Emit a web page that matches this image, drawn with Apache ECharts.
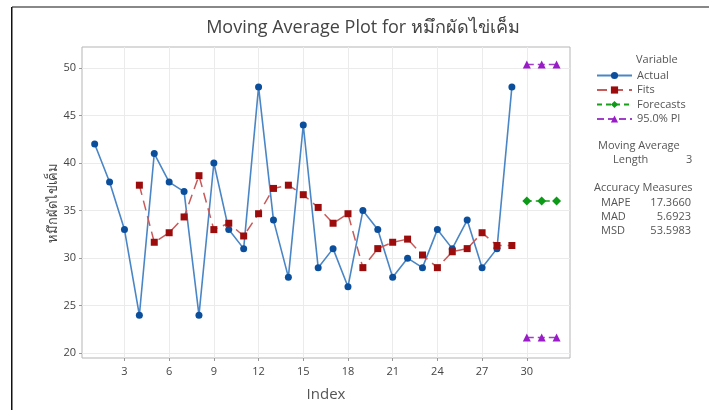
<!DOCTYPE html>
<html>
<head>
<meta charset="utf-8">
<script src="https://cdn.jsdelivr.net/npm/echarts@6/dist/echarts.min.js"></script>
<style>
html,body{margin:0;padding:0;background:#fff;}
#c{width:709px;height:410px;}
</style>
</head>
<body>
<div id="c"></div>
<script>
var indexVals = [1,2,3,4,5,6,7,8,9,10,11,12,13,14,15,16,17,18,19,20,21,22,23,24,25,26,27,28,29];
var actualVals = [42,38,33,24,41,38,37,24,40,33,31,48,34,28,44,29,31,27,35,33,28,30,29,33,31,34,29,31,48];
var fitIndex = [4,5,6,7,8,9,10,11,12,13,14,15,16,17,18,19,20,21,22,23,24,25,26,27,28,29];
var fitVals = [37.67,31.67,32.67,34.33,38.67,33.00,33.67,32.33,34.67,37.33,37.67,36.67,35.33,33.67,34.67,29.00,31.00,31.67,32.00,30.33,29.00,30.67,31.00,32.67,31.33,31.33];
var fcIndex = [30,31,32];
var fcVals = [36,36,36];
var piUpper = [50.35,50.35,50.35];
var piLower = [21.65,21.65,21.65];
var xTicks = [3,6,9,12,15,18,21,24,27,30];
var yTicks = [20,25,30,35,40,45,50];
var statLabels = ['MAPE','MAD','MSD'];
var statValues = ['17.3660','5.6923','53.5983'];

function pairs(xs, ys){ return xs.map(function(x,i){ return [x, ys[i]]; }); }

var FONT = '"Open Sans","Noto Sans",sans-serif';
var chart = echarts.init(document.getElementById('c'), null, {renderer:'canvas'});

var graphics = [
  {type:'rect', shape:{x:12,y:6,width:697,height:2}, style:{fill:'#888'}, silent:true},
  {type:'rect', shape:{x:11,y:7,width:1.5,height:403}, style:{fill:'#111'}, silent:true},
  {type:'text', left:636, top:54, style:{text:'Variable', font:'11px '+FONT, fill:'#555'}},
  {type:'text', left:598, top:140, style:{text:'Moving Average', font:'11px '+FONT, fill:'#555'}},
  {type:'text', left:613, top:154, style:{text:'Length', font:'11px '+FONT, fill:'#555'}},
  {type:'text', left:686, top:154, style:{text:'3', font:'11px '+FONT, fill:'#555'}},
  {type:'text', left:594, top:182, style:{text:'Accuracy Measures', font:'11px '+FONT, fill:'#555'}}
];
statLabels.forEach(function(l,i){
  graphics.push({type:'text', left:601, top:197+i*14, style:{text:l, font:'11px '+FONT, fill:'#555'}});
  graphics.push({type:'text', right:18, top:197+i*14, style:{text:statValues[i], font:'11px '+FONT, fill:'#555', align:'right'}});
});

var option = {
  animation:false,
  backgroundColor:'#fff',
  title:{
    text:'Moving Average Plot for หมึกผัดไข่เค็ม',
    left:358, top:14, textAlign:'center',
    textStyle:{fontFamily:FONT, fontSize:18, fontWeight:'normal', color:'#444'}
  },
  grid:{left:82, right:139, top:47, bottom:52, show:true, borderColor:'#b5b5b5', borderWidth:1},
  legend:{
    orient:'vertical', left:591, top:65, itemWidth:35, itemHeight:9, itemGap:3.5,
    textStyle:{fontFamily:FONT, fontSize:11, color:'#555'},
    data:['Actual','Fits','Forecasts','95.0% PI']
  },
  xAxis:{
    type:'value', min:0.15, max:32.9,
    name:'Index', nameLocation:'middle', nameGap:29,
    nameTextStyle:{fontFamily:FONT, fontSize:15, color:'#555'},
    axisLine:{show:false},
    axisTick:{show:true, length:3, customValues:xTicks, lineStyle:{color:'#999'}},
    axisLabel:{customValues:xTicks, margin:8, fontFamily:FONT, fontSize:11, color:'#444'},
    splitLine:{show:true, lineStyle:{color:'#ebebeb', width:1}}
  },
  yAxis:{
    type:'value', min:19.5, max:52.2,
    name:'หมึกผัดไข่เค็ม', nameLocation:'middle', nameGap:22, nameRotate:90,
    nameMoveOverlap:false,
    nameTextStyle:{fontFamily:FONT, fontSize:13, color:'#444'},
    axisLine:{show:false},
    axisTick:{show:true, length:3, customValues:yTicks, lineStyle:{color:'#999'}},
    axisLabel:{customValues:yTicks, margin:6, fontFamily:FONT, fontSize:11, color:'#444'},
    splitLine:{show:true, lineStyle:{color:'#ebebeb', width:1}}
  },
  series:[
    {name:'Actual', type:'line', data:pairs(indexVals, actualVals), symbol:'circle', symbolSize:7,
     lineStyle:{color:'#4a86c6', width:1.6}, itemStyle:{color:'#0b4f9c'}, z:3},
    {name:'Fits', type:'line', data:pairs(fitIndex, fitVals), symbol:'rect', symbolSize:7,
     lineStyle:{color:'#c85a5a', width:1.5, type:[10,6]}, itemStyle:{color:'#9c0c0c'}, z:4},
    {name:'Forecasts', type:'line', data:pairs(fcIndex, fcVals), symbol:'diamond', symbolSize:9,
     lineStyle:{color:'#1aa01a', width:1.5, type:[5,4]}, itemStyle:{color:'#0c9a18'}},
    {name:'95.0% PI', type:'line', data:pairs(fcIndex, piUpper), symbol:'triangle', symbolSize:8,
     lineStyle:{color:'#a040c8', width:1.5, type:[7,4]}, itemStyle:{color:'#9a1cc8'}},
    {name:'95.0% PI', type:'line', data:pairs(fcIndex, piLower), symbol:'triangle', symbolSize:8,
     lineStyle:{color:'#a040c8', width:1.5, type:[7,4]}, itemStyle:{color:'#9a1cc8'}}
  ],
  graphic:graphics
};
chart.setOption(option);
</script>
</body>
</html>
